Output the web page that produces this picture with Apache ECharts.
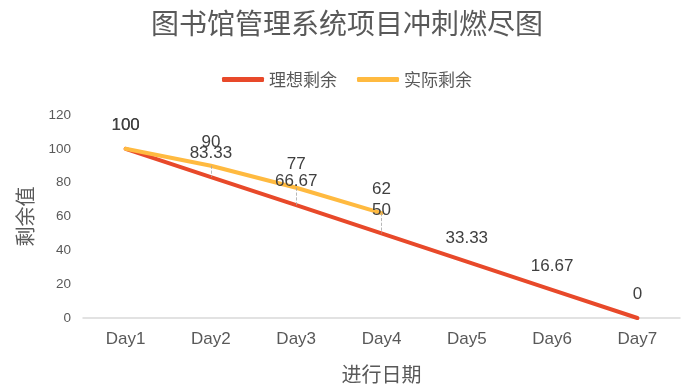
<!DOCTYPE html>
<html><head><meta charset="utf-8">
<script src="https://cdn.jsdelivr.net/npm/echarts@6/dist/echarts.min.js"></script>
<style>html,body{margin:0;padding:0;background:#fff}#c{width:694px;height:391px}</style>
</head><body><div id="c"></div>
<script>
const categories = ['Day1','Day2','Day3','Day4','Day5','Day6','Day7'];
const idealValues = [100, 83.33, 66.67, 50, 33.33, 16.67, 0];
const actualValues = [100, 90, 77, 62];
const yTicks = [0, 20, 40, 60, 80, 100, 120];

const dropLines = actualValues.slice(1).map((v, k) => {
  const i = k + 1;
  return [{coord: [i, v]}, {coord: [i, idealValues[i]]}];
});

const font = '"Microsoft YaHei","Noto Sans CJK SC",Arial,sans-serif';
const latin = 'Arial, "Liberation Sans", sans-serif';
const chart = echarts.init(document.getElementById('c'));
chart.setOption({
  animation: false,
  title: {text: '图书馆管理系统项目冲刺燃尽图', left: 'center', top: 4,
    textStyle: {fontSize: 28, fontWeight: 'normal', color: '#595959', fontFamily: font}},
  legend: {top: 66, left: 'center', itemWidth: 42, itemHeight: 5, itemGap: 20,
    icon: 'roundRect',
    textStyle: {fontSize: 17, color: '#595959', fontFamily: font},
    data: ['理想剩余', '实际剩余']},
  grid: {left: 83, right: 14, top: 115, bottom: 73},
  xAxis: {type: 'category', data: categories, boundaryGap: true,
    name: '进行日期', nameLocation: 'middle', nameGap: 46,
    nameTextStyle: {fontSize: 20, color: '#595959', fontFamily: font},
    axisLine: {lineStyle: {color: '#d9d9d9', width: 1.5}},
    axisTick: {show: false},
    axisLabel: {fontSize: 17, color: '#595959', margin: 13, fontFamily: latin}},
  yAxis: {type: 'value', min: 0, max: 120, interval: 20,
    name: '剩余值', nameLocation: 'middle', nameGap: 48, nameRotate: 90,
    nameTextStyle: {fontSize: 20, color: '#595959', fontFamily: font},
    axisLine: {show: false}, axisTick: {show: false}, splitLine: {show: false},
    axisLabel: {fontSize: 13.5, color: '#595959', margin: 12, fontFamily: latin}},
  series: [
    {name: '理想剩余', type: 'line', data: idealValues, symbol: 'circle', symbolSize: 0.01,
      showSymbol: true,
      lineStyle: {color: '#E8492A', width: 4, cap: 'round'}, itemStyle: {color: '#E8492A'},
      label: {show: true, position: 'top', distance: 15, fontSize: 17, color: '#404040',
        fontFamily: latin},
      markLine: {symbol: 'none', silent: true, label: {show: false},
        lineStyle: {color: '#a6a6a6', type: 'dashed', width: 0.8}, data: dropLines}},
    {name: '实际剩余', type: 'line', data: actualValues, symbol: 'circle', symbolSize: 0.01,
      showSymbol: true,
      lineStyle: {color: '#FFBA40', width: 4, cap: 'round'}, itemStyle: {color: '#FFBA40'},
      label: {show: true, position: 'top', distance: 15, fontSize: 17, color: '#404040',
        fontFamily: latin}}
  ]
});
</script></body></html>
